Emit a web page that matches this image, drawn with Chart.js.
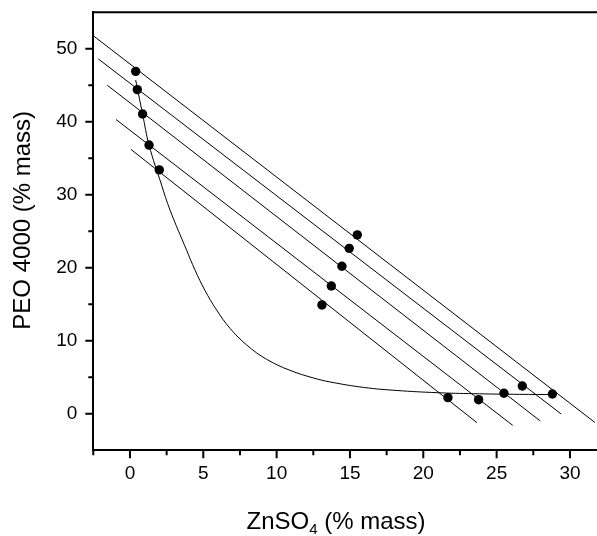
<!DOCTYPE html>
<html>
<head>
<meta charset="utf-8">
<script src="https://cdn.jsdelivr.net/npm/chart.js@4.4.1/dist/chart.umd.min.js"></script>
<style>
html, body { margin: 0; padding: 0; background: #fff; overflow: hidden; }
canvas { display: block; }
</style>
</head>
<body>
<canvas id="myChart" width="612" height="536"></canvas>
<script>
"use strict";

// tie lines: left and right ends
const tieStartZn = [-2.45, -2.16, -1.55, -0.95, 0.07];
const tieStartPeo = [51.7, 48.6, 45.0, 40.3, 36.2];
const tieEndZn = [31.7, 29.4, 27.98, 26.1, 23.66];
const tieEndPeo = [-1.2, -0.04, -1.0, -1.6, -1.23];

// measured points
const topZn = [0.39, 0.5, 0.86, 1.3, 2.0];
const topPeo = [46.9, 44.4, 41.05, 36.8, 33.4];
const mixZn = [15.5, 14.95, 14.45, 13.73, 13.09];
const mixPeo = [24.5, 22.65, 20.2, 17.5, 14.9];
const bottomZn = [28.8, 26.75, 25.5, 23.77, 21.68];
const bottomPeo = [2.7, 3.8, 2.8, 1.92, 2.2];

// binodal curve
const curveZn = [0.39, 0.86, 1.3, 2.16, 2.73, 3.86, 4.43, 5.11, 5.91, 6.82, 7.96, 9.32, 10.9, 12.5, 13.64, 15.93, 18.2, 20.93, 23.43, 26.16, 28.8];
const curvePeo = [45.7, 41.05, 36.8, 31.3, 27.9, 22.4, 19.7, 16.9, 14.2, 11.7, 9.41, 7.45, 5.95, 4.9, 4.35, 3.6, 3.18, 2.88, 2.74, 2.66, 2.62];

const xTicksMajor = 5;
const yTicksMajor = 10;

const toPoints = (xs, ys) => xs.map((x, i) => ({x: x, y: ys[i]}));

const points = {
    data: toPoints(topZn.concat(mixZn, bottomZn), topPeo.concat(mixPeo, bottomPeo)),
    showLine: false,
    pointRadius: 4.7,
    pointBackgroundColor: '#000',
    pointBorderWidth: 0
};

const curve = {
    data: toPoints(curveZn, curvePeo),
    showLine: true,
    borderColor: '#000',
    borderWidth: 1,
    pointRadius: 0,
    tension: 0.4
};

const tieLines = tieStartZn.map((x, i) => ({
    data: [{x: x, y: tieStartPeo[i]}, {x: tieEndZn[i], y: tieEndPeo[i]}],
    showLine: true,
    borderColor: '#000',
    borderWidth: 1,
    pointRadius: 0
}));

const FONT = "'Liberation Sans', Arial, sans-serif";

const isStep = (v, s) => Math.abs(v / s - Math.round(v / s)) < 1e-6;

// ticks of two lengths, top frame line, axis titles
const frame = {
    id: 'frame',
    afterDraw(chart) {
        const ctx = chart.ctx, a = chart.chartArea;
        const xs = chart.scales.x, ys = chart.scales.y;
        ctx.save();
        ctx.strokeStyle = '#000';
        ctx.lineWidth = 2;
        ctx.beginPath();
        ctx.moveTo(a.left - 1, a.top);
        ctx.lineTo(a.right + 1, a.top);
        xs.ticks.forEach(t => {
            if (!isStep(t.value, 2.5)) return;
            const len = isStep(t.value, xTicksMajor) ? 8 : 5;
            const px = xs.getPixelForValue(t.value);
            ctx.moveTo(px, a.bottom);
            ctx.lineTo(px, a.bottom + len);
        });
        ys.ticks.forEach(t => {
            if (t.value <= ys.min || t.value >= ys.max) return;
            const len = isStep(t.value, yTicksMajor) ? 8 : 5;
            const py = ys.getPixelForValue(t.value);
            ctx.moveTo(a.left, py);
            ctx.lineTo(a.left - len, py);
        });
        ctx.stroke();

        ctx.fillStyle = '#000';
        // y title
        ctx.save();
        ctx.translate(23.3, 220.3);
        ctx.rotate(-Math.PI / 2);
        ctx.font = '24px ' + FONT;
        ctx.textAlign = 'center';
        ctx.textBaseline = 'middle';
        ctx.fillText('PEO 4000 (% mass)', 0, 0);
        ctx.restore();

        // x title with subscript
        const big = '24px ' + FONT, small = '15px ' + FONT;
        ctx.textAlign = 'left';
        ctx.textBaseline = 'alphabetic';
        ctx.font = big;
        const w1 = ctx.measureText('ZnSO').width;
        const w3 = ctx.measureText(' (% mass)').width;
        ctx.font = small;
        const w2 = ctx.measureText('4').width;
        let x0 = 336 - (w1 + w2 + w3) / 2;
        const base = 529;
        ctx.font = big;
        ctx.fillText('ZnSO', x0, base);
        ctx.font = small;
        ctx.fillText('4', x0 + w1, base + 5);
        ctx.font = big;
        ctx.fillText(' (% mass)', x0 + w1 + w2, base);
        ctx.restore();
    }
};

const noPad = s => { s.paddingTop = 0; s.paddingBottom = 0; s.paddingLeft = 0; s.paddingRight = 0; };

new Chart("myChart", {
    type: 'scatter',
    data: {
        datasets: [points, curve].concat(tieLines)
    },
    options: {
        responsive: false,
        animation: false,
        events: [],
        layout: {
            padding: {left: 0, top: 12.2, right: 12.7, bottom: 0}
        },
        plugins: {
            legend: {display: false},
            tooltip: {enabled: false}
        },
        scales: {
            x: {
                type: 'linear',
                position: 'bottom',
                min: -2.5,
                max: 32,
                afterFit: s => { s.height = 85.8; noPad(s); },
                grid: {display: false, drawTicks: false},
                border: {display: true, color: '#000', width: 2},
                ticks: {
                    stepSize: 2.5,
                    includeBounds: false,
                    autoSkip: false,
                    maxRotation: 0,
                    padding: 12,
                    color: '#000',
                    font: {family: FONT, size: 19},
                    callback: v => isStep(v, xTicksMajor) ? String(v) : ''
                }
            },
            y: {
                type: 'linear',
                min: -5,
                max: 55,
                afterFit: s => { s.width = 93.3; noPad(s); },
                grid: {display: false, drawTicks: false},
                border: {display: true, color: '#000', width: 2},
                ticks: {
                    stepSize: 5,
                    includeBounds: false,
                    autoSkip: false,
                    padding: 16,
                    color: '#000',
                    font: {family: FONT, size: 19},
                    callback: v => isStep(v, yTicksMajor) ? String(v) : ''
                }
            }
        }
    },
    plugins: [frame]
});
</script>
</body>
</html>
